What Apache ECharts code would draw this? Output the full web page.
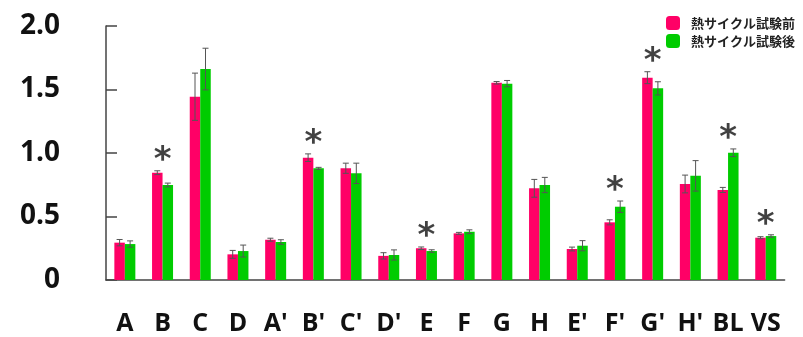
<!DOCTYPE html>
<html><head><meta charset="utf-8">
<script src="https://cdn.jsdelivr.net/npm/echarts@6/dist/echarts.min.js"></script>
<style>html,body{margin:0;padding:0;background:#fff}#c{width:803px;height:337px}</style>
</head><body><div id="c"></div>
<script>
const categories = ["A","B","C","D","A'","B'","C'","D'","E","F","G","H","E'","F'","G'","H'","BL","VS"];
const seriesNames = ["熱サイクル試験前","熱サイクル試験後"];
const before = [0.294,0.845,1.443,0.202,0.317,0.963,0.880,0.190,0.250,0.367,1.553,0.722,0.244,0.454,1.593,0.756,0.709,0.333];
const beforeErr = [0.025,0.015,0.186,0.031,0.012,0.030,0.040,0.025,0.010,0.008,0.010,0.070,0.015,0.020,0.047,0.070,0.020,0.008];
const after = [0.283,0.748,1.661,0.228,0.299,0.879,0.840,0.197,0.228,0.380,1.546,0.748,0.270,0.577,1.509,0.820,1.002,0.346];
const afterErr = [0.025,0.015,0.164,0.047,0.018,0.008,0.080,0.040,0.010,0.015,0.025,0.060,0.040,0.045,0.052,0.120,0.030,0.010];
const significant = [false,true,false,false,false,true,false,false,true,false,false,false,false,true,true,false,true,true];
const yTicks = [0, 0.5, 1.0, 1.5, 2.0];

const PINK = '#FF0066', GREEN = '#00CC00';
const BW = 10.5;
const chart = echarts.init(document.getElementById('c'), null, {renderer:'canvas'});

function errSeries(vals, errs, side){
  return {
    type:'custom', silent:true, z:5,
    data: vals.map((v,i)=>[i, v, errs[i]]),
    renderItem(params, api){
      const i = api.value(0), v = api.value(1), e = api.value(2);
      const top = api.coord([i, v+e]), bot = api.coord([i, v-e]);
      const x = top[0] + side*BW/2;
      const cap = 3;
      const st = {stroke:'#555', lineWidth:1};
      return {type:'group', children:[
        {type:'line', shape:{x1:x,y1:top[1],x2:x,y2:bot[1]}, style:st},
        {type:'line', shape:{x1:x-cap,y1:top[1],x2:x+cap,y2:top[1]}, style:st},
        {type:'line', shape:{x1:x-cap,y1:bot[1],x2:x+cap,y2:bot[1]}, style:st}
      ]};
    }
  };
}

const starData = categories.map((c,i)=> significant[i] ? [i, Math.max(before[i]+beforeErr[i], after[i]+afterErr[i])] : null).filter(d=>d);

chart.setOption({
  animation:false,
  backgroundColor:'#fff',
  grid:{left:106, right:18.4, top:26, bottom:57},
  legend:{
    orient:'vertical', left:661, top:11, itemWidth:14, itemHeight:14, itemGap:4,
    data:seriesNames,
    textStyle:{fontSize:13, fontWeight:'bold', color:'#222', fontFamily:'Noto Sans CJK JP', padding:[0,0,0,6]}
  },
  xAxis:{
    type:'category', data:categories,
    axisLine:{lineStyle:{color:'#444', width:1.5}},
    axisTick:{show:false},
    axisLabel:{fontSize:25, fontWeight:'bold', color:'#111', fontFamily:'Open Sans', margin:31, interval:0}
  },
  yAxis:{
    type:'value', min:yTicks[0], max:yTicks[yTicks.length-1], interval:0.5,
    splitLine:{show:false},
    axisLine:{show:true, lineStyle:{color:'#444', width:1.5}},
    axisTick:{show:true, inside:true, length:11, lineStyle:{color:'#444', width:1.5}},
    axisLabel:{fontSize:28, fontWeight:'bold', color:'#111', fontFamily:'Open Sans', margin:46,
      formatter:v=> v===0 ? '0' : v.toFixed(1)}
  },
  series:[
    {name:seriesNames[0], type:'bar', data:before, barWidth:BW, barGap:'0%', itemStyle:{color:PINK}},
    {name:seriesNames[1], type:'bar', data:after, barWidth:BW, barGap:'0%', itemStyle:{color:GREEN}},
    errSeries(before, beforeErr, -1),
    errSeries(after, afterErr, 1),
    {type:'scatter', data:starData, symbolSize:0, silent:true, z:6,
      label:{show:true, position:'top', distance:-7, formatter:'*', fontSize:34, fontWeight:'bold', color:'#111', fontFamily:'DejaVu Sans'}}
  ]
});
</script></body></html>
